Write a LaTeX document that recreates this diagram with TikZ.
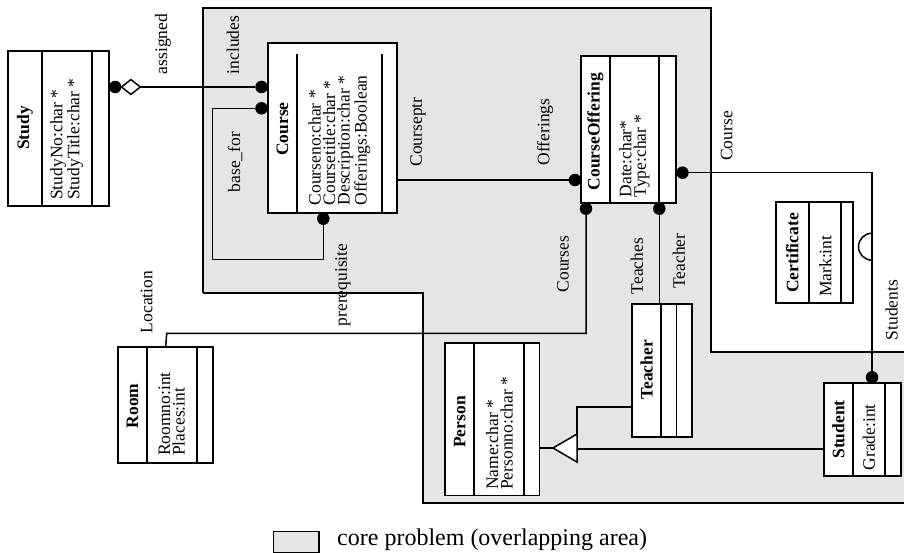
\documentclass[tikz,border=0pt]{standalone}
\usepackage{fontspec}
\setmainfont{Liberation Serif}
\usetikzlibrary{calc}
\newcommand\mysz{\fontsize{17.5}{14.5}\selectfont}
\newcommand\mylg{\fontsize{24}{26}\selectfont}
\begin{document}
\begin{tikzpicture}[x=1pt,y=-1pt,
  box/.style={draw, line width=1.8pt, fill=white, inner sep=0pt, outer sep=0pt, anchor=north west},
  bw/.style={line width=1.8pt},
  conn/.style={line width=1.5pt},
  region/.style={line width=1.8pt},
  dot/.style={circle, fill=black, inner sep=0pt, outer sep=0pt, minimum size=12.5pt},
  cname/.style={rotate=90, inner sep=0pt, font=\mysz\bfseries},
  attr/.style={rotate=90, anchor=west, align=left, inner sep=0pt, font=\mysz},
  lbl/.style={rotate=90, inner sep=0pt, font=\mysz}]
\useasboundingbox (0,0) rectangle (904,553);

% overlapping area
\fill[black!10] (203,8) -- (711,8) -- (711,352) -- (904,352) -- (904,503) -- (423,503) -- (423,293) -- (203,293) -- cycle;
\draw[region] (203,293) -- (203,8) -- (711,8) -- (711,352) -- (904,352);
\draw[region] (203,293) -- (423,293) -- (423,503) -- (904,503);

% Study
\node[box, minimum width=101pt, minimum height=155.3pt] (study) at (8,50.7) {};
\draw[bw] (41.7,50.7) -- (41.7,206);
\draw[bw] (91.7,50.7) -- (91.7,206);
\node[cname] (studyN) at (25,128) {Study};
\node[attr] (studyA) at (66.7,200) {StudyNo:char *\\StudyTitle:char *};

% Course
\node[box, minimum width=129.3pt, minimum height=169.7pt] (course) at (267.7,43) {};
\draw[bw] (297.3,54) -- (297.3,212.7);
\draw[bw] (381.7,54) -- (381.7,212.7);
\node[cname] (courseN) at (282.5,129) {Course};
\node[attr] (courseA) at (339.5,205.5) {Courseno:char *\\Coursetitle:char *\\Description:char *\\Offerings:Boolean};

% CourseOffering
\node[box, minimum width=95pt, minimum height=146.7pt] (co) at (581,56) {};
\draw[bw] (610,56) -- (610,202.7);
\draw[bw] (658.7,56) -- (658.7,202.7);
\node[cname] (coN) at (595.5,131.5) {CourseOffering};
\node[attr] (coA) at (634.5,197.5) {Date:char*\\Type:char *};

% Certificate
\node[box, minimum width=77pt, minimum height=101.6pt] (cert) at (775.7,201.7) {};
\draw[bw] (809,201.7) -- (809,303.3);
\draw[bw] (841,201.7) -- (841,303.3);
\node[cname] (certN) at (792.3,253) {Certificate};
\node[attr] (certA) at (825.5,297) {Mark:int};

% Student
\node[box, minimum width=76.7pt, minimum height=92.7pt] (student) at (824.3,383.3) {};
\draw[bw] (852.7,383.3) -- (852.7,476);
\draw[bw] (885,383.3) -- (885,476);
\node[cname] (studentN) at (838.5,429.5) {Student};
\node[attr] (studentA) at (869,470.5) {Grade:int};

% Person
\node[box, minimum width=94.5pt, minimum height=152.5pt] (person) at (445,343) {};
\draw[bw] (474.3,343) -- (474.3,495.5);
\draw[bw] (524.3,343) -- (524.3,495.5);
\node[cname] (personN) at (459.7,422) {Person};
\node[attr] (personA) at (499.3,490) {Name:char *\\Personno:char *};

% Teacher
\node[box, minimum width=59.7pt, minimum height=132.7pt] (teacher) at (632.3,304) {};
\draw[bw] (661,304) -- (661,436.7);
\draw[bw] (676.5,304) -- (676.5,436.7);
\node[cname] (teacherN) at (646.6,370) {Teacher};

% Room
\node[box, minimum width=95pt, minimum height=116pt] (room) at (118.3,346.7) {};
\draw[bw] (146.7,346.7) -- (146.7,462.7);
\draw[bw] (196.7,346.7) -- (196.7,462.7);
\node[cname] (roomN) at (132.5,406) {Room};
\node[attr] (roomA) at (171.7,456) {Roomno:int\\Places:int};

% dots
\node[dot] (dS) at (115.2,87) {};
\node[dot] (dInc) at (261.5,87) {};
\node[dot] (dBase) at (261.5,108.3) {};
\node[dot] (dPre) at (323.3,218.7) {};
\node[dot] (dOff) at (575,180) {};
\node[dot] (dCrs) at (586,208.7) {};
\node[dot] (dTch) at (659.3,208.7) {};
\node[dot] (dCOr) at (682.5,172.7) {};
\node[dot] (dStu) at (872,377.3) {};
\coordinate (dia) at (140.3,87);
\coordinate (roomLoc) at (165.7,346.7);
\coordinate (tip) at (553,448);

% connectors
\draw[conn, fill=white] (121.5,87) -- (130.9,79.6) -- (dia) -- (130.9,94.4) -- cycle;
\draw[conn] (dia) -- (dInc);
\draw[conn] (dBase) -- (212.7,108.3) -- (212.7,259.3) -- (323.3,259.3) -- (dPre);
\draw[conn] (course.east |- dOff) -- (dOff);
\draw[conn] (dCrs) -- (586,333.3) -- (166.7,333.3) -- (roomLoc);
\draw[conn] (dTch) -- (dTch |- teacher.north);
\draw[conn] (dCOr) -- (872,172.7) -- (dStu);
\draw[conn] (872,233.2) arc[start angle=90, end angle=270, radius=13.5pt];
\draw[conn] (tip -| person.east) -- (tip);
\draw[conn, fill=white] (tip) -- (577,434) -- (577,462) -- cycle;
\draw[conn] (teacher.west |- 0,407) -- (577,407) -- (577,434);
\draw[conn] (student.west |- 0,449) -- (577,449);

% labels
\node[lbl] (lAss) at (163,44) {assigned};
\node[lbl] (lInc) at (233,45) {includes};
\node[lbl] (lBase) at (235,162) {base\_for};
\node[lbl] (lPtr) at (418,132) {Courseptr};
\node[lbl] (lOff) at (545,132) {Offerings};
\node[lbl] (lPre) at (343,285) {prerequisite};
\node[lbl] (lCrs) at (563,264) {Courses};
\node[lbl] (lTchs) at (637,266) {Teaches};
\node[lbl] (lTchr) at (679,261) {Teacher};
\node[lbl] (lCourse) at (726.7,136) {Course};
\node[lbl] (lStud) at (891.7,310) {Students};
\node[lbl] (lLoc) at (146.7,302) {Location};

% legend
\node[draw, fill=black!10, line width=1.6pt, inner sep=0pt, anchor=north west, minimum width=45.6pt, minimum height=21pt] (leg) at (272.7,530.7) {};
\node[anchor=base west, inner sep=0pt, font=\mylg] (legT) at (337,545) {core problem (overlapping area)};
\end{tikzpicture}
\end{document}
